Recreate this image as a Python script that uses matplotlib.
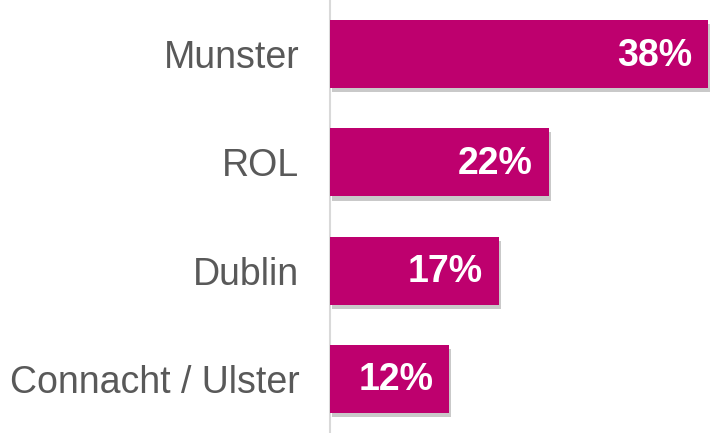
import matplotlib.pyplot as plt
import matplotlib.patheffects as pe

regions = ["Munster", "ROL", "Dublin", "Connacht / Ulster"]
shares = [38, 22, 17, 12]

plt.rcParams['font.family'] = ['Liberation Sans', 'DejaVu Sans']

fig = plt.figure(figsize=(7.18, 4.33), dpi=100)
ax = fig.add_axes([330 / 718, 0, 388 / 718, 1])

pos = list(range(len(regions)))
bars = ax.barh(pos, shares, height=0.63, color='#BE006E', zorder=3)
for b in bars:
    b.set_path_effects([pe.SimplePatchShadow(offset=(1.5, -3), shadow_rgbFace='#666666', alpha=0.35),
                        pe.Normal()])

for p, v in zip(pos, shares):
    ax.annotate(f"{v}%", xy=(v, p), xytext=(-11.5, -1), textcoords='offset points',
                ha='right', va='center', color='white', fontsize=27, fontweight='bold', zorder=4)

ax.set_ylim(3.5, -0.5)
ax.set_xlim(0, 39)
ax.set_yticks(pos)
ax.set_yticklabels(regions, fontsize=27, color='#595959')
ax.tick_params(axis='y', length=0, pad=22)
ax.set_xticks([])
for s in ['top', 'right', 'bottom']:
    ax.spines[s].set_visible(False)
ax.spines['left'].set_color('#D9D9D9')
ax.spines['left'].set_linewidth(1.5)

plt.savefig("out.png", dpi=100)
